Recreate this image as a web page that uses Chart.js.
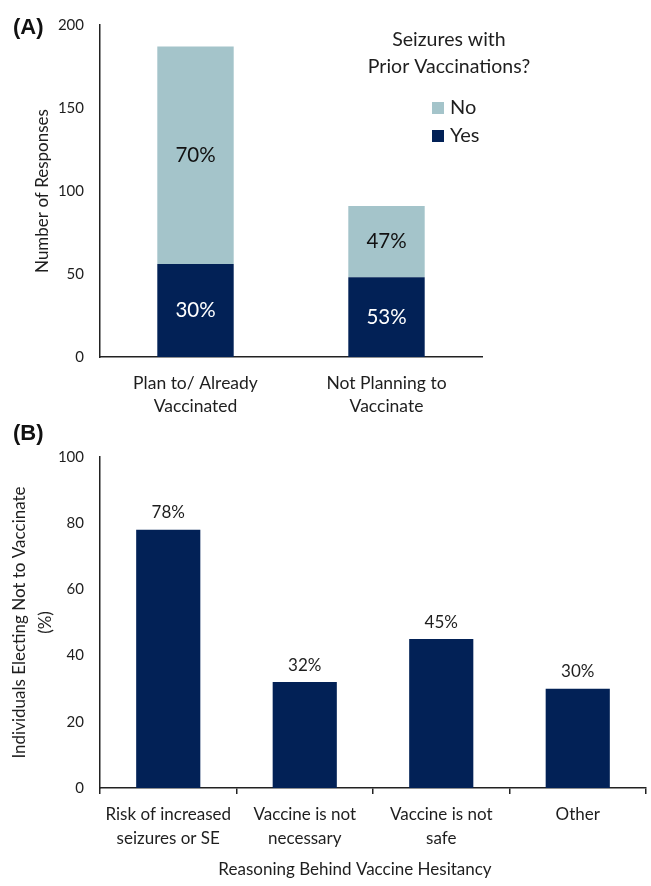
<!DOCTYPE html>
<html>
<head>
<meta charset="utf-8">
<script src="https://cdn.jsdelivr.net/npm/chart.js@4.4.0/dist/chart.umd.min.js"></script>
<style>
  html, body { margin: 0; padding: 0; background: #fff; }
  #wrap { position: relative; width: 651px; height: 886px; }
  #chartA { position: absolute; left: 0; top: 0; }
  #chartB { position: absolute; left: 0; top: 430px; }
  .tag { position: absolute; left: 13px; font: bold 22px "Liberation Sans", Arial, sans-serif; color: #111; }
</style>
</head>
<body>
<div id="wrap">
  <canvas id="chartA" width="651" height="430"></canvas>
  <canvas id="chartB" width="651" height="456"></canvas>
  <div class="tag" style="top:14px">(A)</div>
  <div class="tag" style="top:420px">(B)</div>
</div>
<script>
// --- data: panel A ---
const groupsA = [["Plan to/ Already", "Vaccinated"], ["Not Planning to", "Vaccinate"]];
const yesCounts = [56, 48];
const noCounts = [131, 43];
const yesPct = [30, 53];
const noPct = [70, 47];
const ticksA = [0, 50, 100, 150, 200];
const legendTitleA = ["Seizures with", "Prior Vaccinations?"];

// --- data: panel B ---
const reasons = [["Risk of increased", "seizures or SE"], ["Vaccine is not", "necessary"], ["Vaccine is not", "safe"], ["Other"]];
const reasonPct = [78, 32, 45, 30];
const ticksB = [0, 20, 40, 60, 80, 100];
const xTitleB = "Reasoning Behind Vaccine Hesitancy";

const NAVY = "#022156";
const LIGHT = "#a4c4ca";
const INK = "#1e1e1e";
const FONT = "Lato, 'Open Sans', sans-serif";

Chart.defaults.font.family = FONT;
Chart.defaults.color = INK;

// labels inside / above the bars
const barLabels = {
  id: "barLabels",
  afterDatasetsDraw(chart, args, opts) {
    const ctx = chart.ctx;
    ctx.save();
    ctx.textAlign = "center";
    ctx.textBaseline = "middle";
    chart.data.datasets.forEach((ds, i) => {
      const meta = chart.getDatasetMeta(i);
      ctx.font = opts.size + "px " + FONT;
      ctx.fillStyle = ds.pctColor;
      meta.data.forEach((bar, j) => {
        const txt = ds.pct[j] + "%";
        if (opts.above) {
          ctx.fillText(txt, bar.x, bar.y - 17);
        } else {
          ctx.fillText(txt, bar.x, (bar.y + bar.base) / 2);
        }
      });
    });
    ctx.restore();
  }
};

// legend block for panel A (title + swatches)
const legendA = {
  id: "legendA",
  afterDraw(chart) {
    const ctx = chart.ctx;
    ctx.save();
    ctx.fillStyle = INK;
    ctx.textAlign = "center";
    ctx.textBaseline = "middle";
    ctx.font = "19.5px " + FONT;
    legendTitleA.forEach((t, i) => ctx.fillText(t, 449, 40 + i * 27));
    ctx.textAlign = "left";
    ctx.font = "20px " + FONT;
    const items = chart.data.datasets.slice().reverse();
    items.forEach((ds, i) => {
      const y = 108 + i * 28;
      ctx.fillStyle = ds.backgroundColor;
      ctx.fillRect(432, y - 6, 12, 12);
      ctx.fillStyle = INK;
      ctx.fillText(ds.label, 450, y);
    });
    ctx.restore();
  }
};

// x axis title of panel B (sits a bit left of the plot centre, as in the source)
const xTitle = {
  id: "xTitle",
  afterDraw(chart) {
    const ctx = chart.ctx;
    const area = chart.chartArea;
    ctx.save();
    ctx.fillStyle = INK;
    ctx.textAlign = "center";
    ctx.textBaseline = "middle";
    ctx.font = "17px " + FONT;
    ctx.fillText(xTitleB, (area.left + area.right) / 2 - 18, 440);
    ctx.restore();
  }
};

new Chart(document.getElementById("chartA"), {
  type: "bar",
  data: {
    labels: groupsA,
    datasets: [
      { label: "Yes", data: yesCounts, backgroundColor: NAVY, pct: yesPct, pctColor: "#ffffff" },
      { label: "No", data: noCounts, backgroundColor: LIGHT, pct: noPct, pctColor: "#111111" }
    ]
  },
  options: {
    responsive: false,
    animation: false,
    barPercentage: 0.4,
    categoryPercentage: 1.0,
    layout: { padding: { top: 15, right: 169, left: 0, bottom: 0 } },
    plugins: {
      legend: { display: false },
      tooltip: { enabled: false },
      barLabels: { size: 20.5, above: false }
    },
    scales: {
      x: {
        stacked: true,
        grid: { display: false, drawTicks: false },
        border: { color: "#222", width: 1.5 },
        ticks: { padding: 15, font: { size: 17.5, lineHeight: 1.3 }, color: INK },
        afterFit(s) { s.height = 73; }
      },
      y: {
        stacked: true,
        min: 0,
        max: 200,
        afterBuildTicks(s) { s.ticks = ticksA.map(v => ({ value: v })); },
        grid: { display: false, drawTicks: false },
        border: { color: "#222", width: 1.5 },
        ticks: { padding: 16, font: { size: 15 }, color: INK },
        title: { display: true, text: "Number of Responses", font: { size: 17 }, color: INK, padding: { top: 32, bottom: 0 } },
        afterFit(s) { s.width = 100; }
      }
    }
  },
  plugins: [barLabels, legendA]
});

new Chart(document.getElementById("chartB"), {
  type: "bar",
  data: {
    labels: reasons,
    datasets: [
      { label: "Individuals Electing Not to Vaccinate (%)", data: reasonPct, backgroundColor: NAVY, pct: reasonPct, pctColor: INK }
    ]
  },
  options: {
    responsive: false,
    animation: false,
    barPercentage: 0.47,
    categoryPercentage: 1.0,
    layout: { padding: { top: 27, right: 5, left: 0, bottom: 0 } },
    plugins: {
      legend: { display: false },
      tooltip: { enabled: false },
      barLabels: { size: 17, above: true }
    },
    scales: {
      x: {
        grid: { display: true, drawOnChartArea: false, drawTicks: true, tickLength: 6, color: "#222", lineWidth: 1.5 },
        border: { color: "#222", width: 1.5 },
        ticks: { padding: 9, font: { size: 17, lineHeight: 1.4 }, color: INK },
        afterFit(s) { s.height = 98; }
      },
      y: {
        min: 0,
        max: 100,
        afterBuildTicks(s) { s.ticks = ticksB.map(v => ({ value: v })); },
        grid: { display: false, drawTicks: false },
        border: { color: "#222", width: 1.5 },
        ticks: { padding: 16, font: { size: 15 }, color: INK },
        title: { display: true, text: ["Individuals Electing Not to Vaccinate", "(%)"], font: { size: 17, lineHeight: 1.5 }, color: INK, padding: { top: 7, bottom: 0 } },
        afterFit(s) { s.width = 100; }
      }
    }
  },
  plugins: [barLabels, xTitle]
});
</script>
</body>
</html>
